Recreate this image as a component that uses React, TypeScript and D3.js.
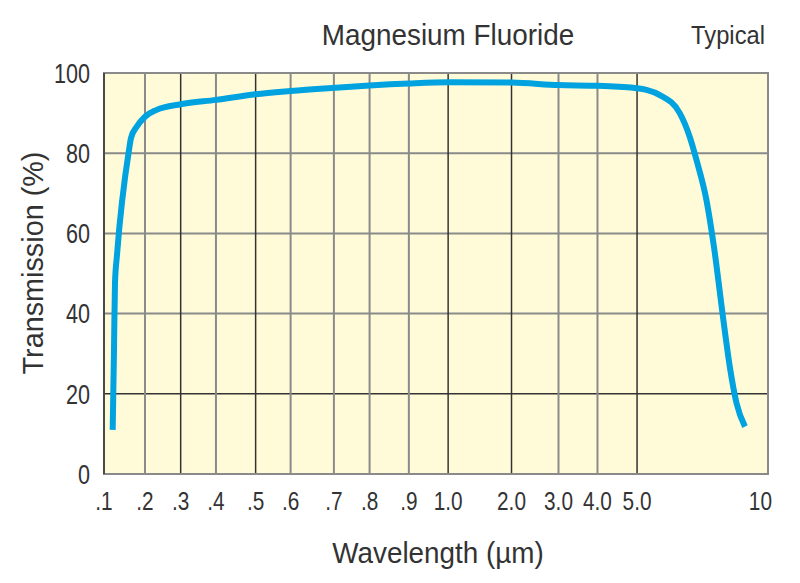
import React from "react";
import * as d3 from "d3";

const xTickValues = [0.1, 0.2, 0.3, 0.4, 0.5, 0.6, 0.7, 0.8, 0.9, 1.0, 2.0, 3.0, 4.0, 5.0, 10];
const xTickLabels = [".1", ".2", ".3", ".4", ".5", ".6", ".7", ".8", ".9", "1.0", "2.0", "3.0", "4.0", "5.0", "10"];
const xDarkTicks = [0.3, 0.5, 1.0, 2.0, 5.0];
const yTickValues = [0, 20, 40, 60, 80, 100];
const yDarkTicks = [20];

const wavelength = [0.1212, 0.1244, 0.1268, 0.1317, 0.161, 0.1659, 0.1798, 0.2, 0.2328, 0.3, 0.4, 0.5, 0.6, 0.7, 0.8, 0.9, 1.0, 2.0, 3.0, 4.0, 5.0, 5.36, 5.87, 6.63, 7.01, 7.27, 7.65, 7.95, 8.28, 8.54, 8.8, 9.12];
const transmission = [11, 31, 47.6, 54.6, 80.8, 83.8, 86.6, 89.1, 90.8, 92.2, 93.3, 94.7, 95.5, 96.3, 96.9, 97.4, 97.7, 97.6, 97.0, 96.8, 96.2, 95.8, 94.5, 90, 84.1, 78.3, 68.3, 56, 39.2, 26.8, 17.6, 11.8];

const W = 800;
const H = 583;
const left = 104;
const right = 768;
const top = 73;
const bottom = 474;
// relative positions of the printed (non-uniform) wavelength grid, in fraction of plot width
const xTickFrac = [0, 41, 76.7, 112, 151.7, 186.7, 230, 265.7, 305, 344.3, 407.7, 454.7, 493.7, 533.3, 664.3].map((v) => v / 664.3);

const FONT = "'Liberation Sans', Arial, sans-serif";

function CText(props: { x: number; y: number; sx: number; size: number; anchor: string; children: any; dy?: string }) {
  return (
    <g transform={`translate(${props.x},${props.y}) scale(${props.sx},1)`}>
      <text x={0} y={0} dy={props.dy} textAnchor={props.anchor} fontFamily={FONT} fontSize={props.size} fill="#333">
        {props.children}
      </text>
    </g>
  );
}

export default function App() {
  const x = d3
    .scaleLinear()
    .domain(xTickValues)
    .range(xTickFrac.map((f) => left + f * (right - left)));
  const y = d3.scaleLinear().domain([0, 100]).range([bottom, top]);

  const pts: [number, number][] = wavelength.map((w, i) => [x(w), y(transmission[i])]);
  const line = d3.line().curve(d3.curveMonotoneX)(pts) || "";

  const dark = "#333";
  const gray = "#8a8a8a";
  const lastIdx = xTickValues.length - 1;

  return (
    <svg width={W} height={H} style={{ position: "absolute", left: 0, top: 0 }}>
      <rect x={0} y={0} width={W} height={H} fill="#fff" />
      <rect x={left} y={top} width={right - left} height={bottom - top} fill="#fffbd9" />
      {yTickValues.slice(1, -1).map((v) => (
        <line
          key={"h" + v}
          x1={left}
          x2={right}
          y1={y(v)}
          y2={y(v)}
          stroke={yDarkTicks.includes(v) ? dark : gray}
          strokeWidth={yDarkTicks.includes(v) ? 1.5 : 2}
        />
      ))}
      {xTickValues.slice(1, -1).map((v) => (
        <line
          key={"v" + v}
          x1={x(v)}
          x2={x(v)}
          y1={top}
          y2={bottom}
          stroke={xDarkTicks.includes(v) ? dark : gray}
          strokeWidth={xDarkTicks.includes(v) ? 1.5 : 2}
        />
      ))}
      <rect x={left} y={top} width={right - left} height={bottom - top} fill="none" stroke={gray} strokeWidth={2} />
      <line x1={left} x2={left} y1={top} y2={bottom} stroke={dark} strokeWidth={1.5} />
      <path d={line} fill="none" stroke="#00a2df" strokeWidth={6} strokeLinejoin="round" />
      {yTickValues.map((v) => (
        <CText key={"yt" + v} x={90} y={y(v)} dy="0.36em" sx={0.8} size={27} anchor="end">
          {v}
        </CText>
      ))}
      {xTickValues.map((v, i) => (
        <CText
          key={"xt" + v}
          x={i === lastIdx ? x(v) + 4 : x(v)}
          y={510}
          sx={0.8}
          size={26}
          anchor={i === lastIdx ? "end" : "middle"}
        >
          {xTickLabels[i]}
        </CText>
      ))}
      <CText x={448} y={45} sx={0.93} size={30} anchor="middle">
        Magnesium Fluoride
      </CText>
      <CText x={765} y={44} sx={0.95} size={25} anchor="end">
        Typical
      </CText>
      <CText x={438} y={563} sx={0.96} size={29} anchor="middle">
        Wavelength (µm)
      </CText>
      <g transform={`translate(43,${(153 + 373) / 2}) rotate(-90)`}>
        <CText x={0} y={0} sx={0.96} size={30} anchor="middle">
          Transmission (%)
        </CText>
      </g>
    </svg>
  );
}
